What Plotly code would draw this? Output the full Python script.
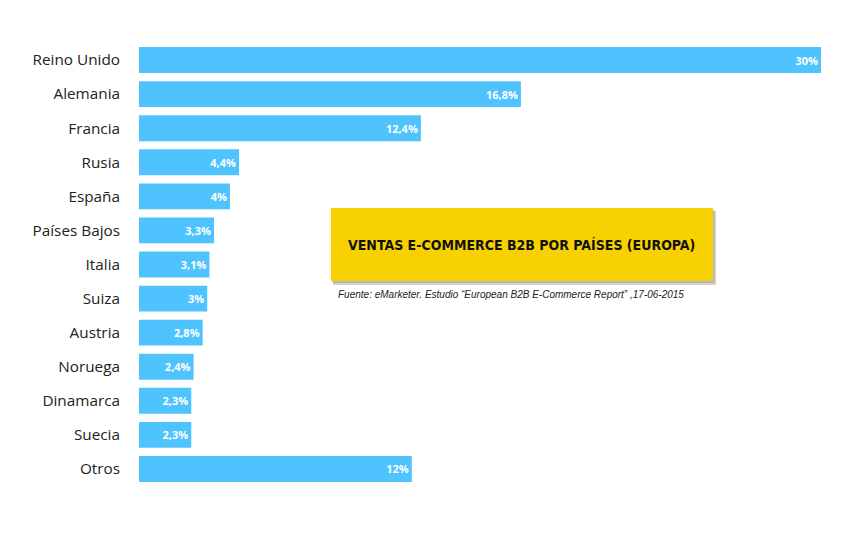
import plotly.graph_objects as go

countries = ["Reino Unido", "Alemania", "Francia", "Rusia", "España", "Países Bajos",
             "Italia", "Suiza", "Austria", "Noruega", "Dinamarca", "Suecia", "Otros"]
values = [30, 16.8, 12.4, 4.4, 4, 3.3, 3.1, 3, 2.8, 2.4, 2.3, 2.3, 12]
labels = ["30%", "16,8%", "12,4%", "4,4%", "4%", "3,3%", "3,1%", "3%", "2,8%", "2,4%",
          "2,3%", "2,3%", "12%"]

title_text = "VENTAS E-COMMERCE B2B POR PAÍSES (EUROPA)"
source_text = "Fuente: eMarketer. Estudio “European B2B E-Commerce Report” ,17-06-2015"

fig = go.Figure(go.Bar(
    x=values, y=countries, orientation="h",
    marker=dict(color="#4FC3FE", line=dict(width=0)),
    text=labels, textposition="inside", insidetextanchor="end",
    textfont=dict(family="Open Sans", size=11, color="white", weight="bold"),
    cliponaxis=False,
))

W, H = 850, 536
l, r, t, b = 139, 29, 43, 50

def px_x(p):
    return (p - l) / (W - l - r)

def px_y(p):
    return 1 - (p - t) / (H - t - b)

# shadow
fig.add_shape(type="rect", xref="paper", yref="paper",
              x0=px_x(333), x1=px_x(716), y0=px_y(285), y1=px_y(211),
              fillcolor="rgba(0,0,0,0.18)", line=dict(width=0), layer="above")
fig.add_shape(type="rect", xref="paper", yref="paper",
              x0=px_x(332), x1=px_x(714.5), y0=px_y(283), y1=px_y(209.5),
              fillcolor="rgba(0,0,0,0.12)", line=dict(width=0), layer="above")
fig.add_shape(type="rect", xref="paper", yref="paper",
              x0=px_x(331), x1=px_x(713), y0=px_y(281), y1=px_y(208),
              fillcolor="#F8D100", line=dict(width=0), layer="above")

fig.add_annotation(xref="paper", yref="paper", x=px_x(521), y=px_y(245),
                   text="<b>" + title_text + "</b>", showarrow=False,
                   xanchor="center", yanchor="middle",
                   font=dict(family="DejaVu Sans Condensed, Roboto, sans-serif", size=14, color="#111111"))
fig.add_annotation(xref="paper", yref="paper", x=px_x(336), y=px_y(294),
                   text=source_text, showarrow=False,
                   xanchor="left", yanchor="middle",
                   font=dict(family="Liberation Sans", size=10, color="#222222", style="italic"))

fig.update_layout(
    width=W, height=H,
    margin=dict(l=l, r=r, t=t, b=b),
    plot_bgcolor="white", paper_bgcolor="white",
    bargap=0.24,
    showlegend=False,
    xaxis=dict(range=[0, 30], visible=False, fixedrange=True),
    yaxis=dict(autorange="reversed", showgrid=False, zeroline=False, showline=False,
               ticks="", ticklabelstandoff=18,
               tickfont=dict(family="Open Sans", size=15.3, color="#222222")),
    uniformtext=dict(minsize=8, mode="show"),
)

fig.write_html("out.html")
